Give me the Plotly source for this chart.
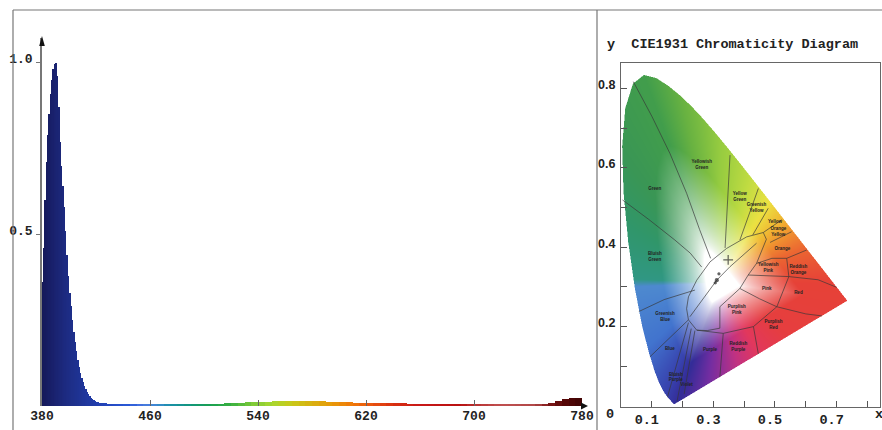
import numpy as np
import plotly.graph_objects as go
import zlib, struct, base64

# ---------------- data ----------------
peak_wavelengths = list(range(380, 440))
peak_values = [0.36, 0.46, 0.60, 0.71, 0.79, 0.85, 0.91, 0.95, 0.98, 0.995,
               1.00, 0.96, 0.87, 0.77, 0.70, 0.64, 0.58, 0.51, 0.44, 0.38,
               0.33, 0.29, 0.25, 0.215, 0.185, 0.16, 0.135, 0.115, 0.097, 0.082,
               0.069, 0.058, 0.049, 0.042, 0.035, 0.029, 0.024, 0.020, 0.017, 0.014,
               0.012, 0.011, 0.010, 0.009, 0.009, 0.008, 0.008, 0.008, 0.007, 0.007,
               0.007, 0.007, 0.006, 0.006, 0.006, 0.006, 0.006, 0.006, 0.006, 0.006]
tail_wavelengths = list(range(440, 780, 5))
tail_values = [0.006, 0.005, 0.005, 0.004, 0.004, 0.004, 0.004, 0.004, 0.004, 0.004,
               0.005, 0.005, 0.006, 0.006, 0.007, 0.008, 0.009, 0.010, 0.011, 0.012,
               0.013, 0.013, 0.014, 0.014, 0.014, 0.014, 0.014, 0.015, 0.016, 0.015,
               0.013, 0.012, 0.011, 0.011, 0.010, 0.010, 0.010, 0.009, 0.009, 0.009,
               0.008, 0.008, 0.007, 0.007, 0.006, 0.006, 0.006, 0.005, 0.005, 0.005,
               0.004, 0.004, 0.004, 0.003, 0.003, 0.003, 0.003, 0.003, 0.003, 0.003,
               0.003, 0.003, 0.004, 0.008, 0.014, 0.020, 0.024, 0.023]
spec_x_ticks = [380, 460, 540, 620, 700, 780]
spec_y_ticks = [0.5, 1.0]
spec_y_labels = ["0.5", "1.0"]

cie_x_ticks = [0.1, 0.3, 0.5, 0.7]
cie_x_minor = [0.2, 0.4, 0.6, 0.8]
cie_y_ticks = [0.2, 0.4, 0.6, 0.8]
cie_y_minor = [0.1, 0.3, 0.5, 0.7]

# CIE 1931 spectral locus (x, y) 380-700 nm
locus_x = [0.1741, 0.1740, 0.1738, 0.1736, 0.1733, 0.1730, 0.1726, 0.1721, 0.1714, 0.1703,
           0.1689, 0.1669, 0.1644, 0.1611, 0.1566, 0.1510, 0.1440, 0.1355, 0.1241, 0.1096,
           0.0913, 0.0687, 0.0454, 0.0235, 0.0082, 0.0039, 0.0139, 0.0389, 0.0743, 0.1142,
           0.1547, 0.1929, 0.2296, 0.2658, 0.3016, 0.3373, 0.3731, 0.4087, 0.4441, 0.4788,
           0.5125, 0.5448, 0.5752, 0.6029, 0.6270, 0.6482, 0.6658, 0.6801, 0.6915, 0.7006,
           0.7079, 0.7140, 0.7190, 0.7230, 0.7260, 0.7283, 0.7300, 0.7311, 0.7320, 0.7334, 0.7347]
locus_y = [0.0050, 0.0050, 0.0049, 0.0049, 0.0048, 0.0048, 0.0048, 0.0048, 0.0051, 0.0058,
           0.0069, 0.0086, 0.0109, 0.0138, 0.0177, 0.0227, 0.0297, 0.0399, 0.0578, 0.0868,
           0.1327, 0.2007, 0.2950, 0.4127, 0.5384, 0.6548, 0.7502, 0.8120, 0.8338, 0.8262,
           0.8059, 0.7816, 0.7543, 0.7243, 0.6923, 0.6589, 0.6245, 0.5896, 0.5547, 0.5202,
           0.4866, 0.4544, 0.4242, 0.3965, 0.3725, 0.3514, 0.3340, 0.3197, 0.3083, 0.2993,
           0.2920, 0.2859, 0.2809, 0.2770, 0.2740, 0.2717, 0.2700, 0.2689, 0.2680, 0.2666, 0.2653]

# colour-name region boundaries (x list, y list)
region_lines = [
    ([0.040, 0.100, 0.159, 0.213, 0.255, 0.291], [0.817, 0.730, 0.636, 0.536, 0.445, 0.372]),
    ([0.005, 0.090, 0.175, 0.225, 0.262], [0.519, 0.470, 0.418, 0.385, 0.350]),
    ([0.354, 0.347, 0.341, 0.338], [0.632, 0.520, 0.440, 0.398]),
    ([0.446, 0.386], [0.548, 0.418]),
    ([0.478, 0.428], [0.498, 0.431]),
    ([0.522, 0.462], [0.469, 0.437]),
    ([0.554, 0.484], [0.439, 0.412]),
    ([0.538, 0.570, 0.603], [0.372, 0.382, 0.393]),
    ([0.219, 0.213, 0.219, 0.246, 0.289, 0.343, 0.408, 0.462, 0.472, 0.455, 0.440, 0.413, 0.386, 0.321, 0.321, 0.280, 0.246, 0.219],
     [0.217, 0.245, 0.275, 0.317, 0.363, 0.397, 0.426, 0.437, 0.420, 0.390, 0.359, 0.330, 0.296, 0.250, 0.196, 0.190, 0.191, 0.217]),
    ([0.440, 0.490, 0.538], [0.359, 0.372, 0.372]),
    ([0.538, 0.545, 0.506, 0.430, 0.332, 0.246], [0.372, 0.326, 0.250, 0.200, 0.183, 0.191]),
    ([0.413, 0.545], [0.330, 0.326]),
    ([0.545, 0.640, 0.700], [0.326, 0.318, 0.299]),
    ([0.386, 0.450, 0.506], [0.296, 0.270, 0.250]),
    ([0.506, 0.600, 0.652], [0.250, 0.232, 0.227]),
    ([0.430, 0.446], [0.200, 0.131]),
    ([0.332, 0.321], [0.183, 0.073]),
    ([0.240, 0.205], [0.190, 0.030]),
    ([0.228, 0.182], [0.195, 0.012]),
    ([0.219, 0.151], [0.210, 0.023]),
    ([0.219, 0.094], [0.217, 0.124]),
    ([0.240, 0.140, 0.058], [0.292, 0.268, 0.238]),
    ([0.224, 0.270, 0.311, 0.354, 0.440], [0.225, 0.275, 0.317, 0.351, 0.410]),
]
region_names = ["Green", "Yellowish<br>Green", "Yellow<br>Green", "Greenish<br>Yellow", "Yellow",
                "Orange<br>Yellow", "Orange", "Bluish<br>Green", "Yellowish<br>Pink", "Reddish<br>Orange",
                "Pink", "Red", "Greenish<br>Blue", "Purplish<br>Pink", "Purplish<br>Red", "Blue",
                "Purple", "Reddish<br>Purple", "Bluish<br>Purple", "Violet"]
region_label_x = [0.110, 0.262, 0.386, 0.440, 0.500, 0.511, 0.524, 0.110, 0.478, 0.576,
                  0.473, 0.576, 0.143, 0.376, 0.495, 0.159, 0.289, 0.381, 0.178, 0.213]
region_label_y = [0.548, 0.607, 0.527, 0.498, 0.464, 0.439, 0.397, 0.376, 0.347, 0.343,
                  0.296, 0.284, 0.225, 0.242, 0.204, 0.145, 0.141, 0.149, 0.072, 0.052]

# ---------------- helpers ----------------
W, H = 882, 430
def px(xp): return xp / W
def py(yp): return 1 - yp / H

spec_stops = [(380, (20, 24, 88)), (390, (26, 34, 112)), (400, (29, 45, 133)), (415, (32, 56, 160)),
              (430, (35, 71, 192)), (445, (42, 90, 216)), (455, (74, 120, 224)), (465, (60, 138, 208)),
              (475, (26, 144, 168)), (490, (18, 150, 122)), (505, (26, 160, 80)), (520, (56, 176, 64)),
              (535, (120, 200, 56)), (550, (168, 216, 48)), (565, (200, 200, 24)), (580, (216, 176, 16)),
              (595, (232, 152, 8)), (610, (240, 120, 8)), (625, (232, 80, 16)), (640, (216, 48, 16)),
              (660, (200, 24, 24)), (690, (184, 16, 16)), (700, (184, 48, 48)), (720, (192, 80, 80)),
              (745, (176, 72, 72)), (755, (128, 24, 24)), (765, (90, 8, 8)), (780, (64, 4, 4))]
def spec_color(w):
    ws = [s[0] for s in spec_stops]
    c = [int(round(np.interp(w, ws, [s[1][k] for s in spec_stops]))) for k in range(3)]
    return "rgb(%d,%d,%d)" % tuple(c)

bar_x = peak_wavelengths + tail_wavelengths
bar_y = peak_values + tail_values
bar_w = [1] * len(peak_wavelengths) + [5] * len(tail_wavelengths)
bar_c = [spec_color(w + bw / 2) for w, bw in zip(bar_x, bar_w)]

# ---------------- CIE background image ----------------
XR = (0.0, 0.841)
YR = (-0.0025, 0.864)
NX, NY = 518, 688
xs = XR[0] + (np.arange(NX) + 0.5) * (XR[1] - XR[0]) / NX
ys = YR[1] - (np.arange(NY) + 0.5) * (YR[1] - YR[0]) / NY
GX, GY = np.meshgrid(xs, ys)

bx = np.array(locus_x + [locus_x[0]])
by = np.array(locus_y + [locus_y[0]])

def inside_poly(X, Y, pxs, pys):
    res = np.zeros(X.shape, bool)
    n = len(pxs)
    j = n - 1
    for i in range(n):
        xi, yi, xj, yj = pxs[i], pys[i], pxs[j], pys[j]
        if yi != yj:
            cond = (yi > Y) != (yj > Y)
            xint = (xj - xi) * (Y - yi) / (yj - yi) + xi
            res ^= cond & (X < xint)
        j = i
    return res

inside = inside_poly(GX, GY, bx, by)

WX, WY = 0.32, 0.31
dbx, dby = [], []
for i in range(len(bx) - 1):
    t = np.linspace(0, 1, 40, endpoint=False)
    dbx.extend(bx[i] + (bx[i + 1] - bx[i]) * t)
    dby.extend(by[i] + (by[i + 1] - by[i]) * t)
dbx, dby = np.array(dbx), np.array(dby)
b_ang = np.degrees(np.arctan2(dby - WY, dbx - WX)) % 360
b_dist = np.hypot(dbx - WX, dby - WY)
order = np.argsort(b_ang)
b_ang, b_dist = b_ang[order], b_dist[order]

p_ang = np.degrees(np.arctan2(GY - WY, GX - WX)) % 360
p_dist = np.hypot(GX - WX, GY - WY)
edge_d = np.interp(p_ang, b_ang, b_dist, period=360)
r = np.clip(p_dist / edge_d, 0, 1)

anchors = [(0, (230, 66, 56)), (18, (236, 104, 50)), (30, (240, 150, 48)), (40, (240, 188, 52)),
           (52, (236, 226, 66)), (70, (192, 220, 66)), (90, (150, 204, 64)), (105, (104, 178, 66)),
           (115, (66, 158, 76)), (135, (58, 150, 86)), (155, (48, 150, 108)), (178, (48, 152, 132)),
           (182, (78, 138, 208)), (215, (66, 116, 206)), (238, (56, 66, 174)), (246, (52, 44, 152)),
           (262, (116, 46, 162)), (285, (192, 50, 132)), (305, (226, 56, 94)), (330, (230, 62, 64))]
a_ang = [a[0] for a in anchors]
edge_rgb = np.stack([np.interp(p_ang, a_ang, [a[1][k] for a in anchors], period=360) for k in range(3)], -1)
s = np.clip((r - 0.16) / 0.50, 0, 1) ** 0.75
rgb = 255 * (1 - s[..., None]) + edge_rgb * s[..., None]
rgba = np.zeros((NY, NX, 4), np.uint8)
rgba[..., :3] = np.clip(rgb, 0, 255).astype(np.uint8)
rgba[..., 3] = np.where(inside, 255, 0).astype(np.uint8)

def png_uri(a):
    h, w, _ = a.shape
    raw = b"".join(b"\x00" + a[i].tobytes() for i in range(h))
    def chunk(t, d):
        return struct.pack(">I", len(d)) + t + d + struct.pack(">I", zlib.crc32(t + d) & 0xffffffff)
    png = (b"\x89PNG\r\n\x1a\n" + chunk(b"IHDR", struct.pack(">IIBBBBB", w, h, 8, 6, 0, 0, 0))
           + chunk(b"IDAT", zlib.compress(raw, 9)) + chunk(b"IEND", b""))
    return "data:image/png;base64," + base64.b64encode(png).decode()

# ---------------- figure ----------------
MONO = "Liberation Mono"
fig = go.Figure()
fig.add_trace(go.Bar(x=bar_x, y=bar_y, width=bar_w, offset=0, marker=dict(color=bar_c, line=dict(width=0)),
                     xaxis="x", yaxis="y", showlegend=False, hoverinfo="x+y"))

lx, ly = [], []
for xs_, ys_ in region_lines:
    lx += list(xs_) + [None]
    ly += list(ys_) + [None]
fig.add_trace(go.Scatter(x=lx, y=ly, mode="lines", line=dict(color="rgba(55,55,55,0.85)", width=0.8),
                         xaxis="x2", yaxis="y2", showlegend=False, hoverinfo="skip"))
fig.add_trace(go.Scatter(x=region_label_x, y=region_label_y, mode="text", text=region_names,
                         textfont=dict(size=4.5, color="#222", family="Liberation Sans", weight="bold"),
                         xaxis="x2", yaxis="y2", showlegend=False, hoverinfo="skip"))
fig.add_trace(go.Scatter(x=[0.348, 0.311, 0.318, 0.306], y=[0.368, 0.317, 0.333, 0.310], mode="markers",
                         marker=dict(symbol=["cross-thin", "circle", "circle", "circle"], size=[7, 3, 2, 2],
                                     color="#222", line=dict(color="#222", width=1.2)),
                         xaxis="x2", yaxis="y2", showlegend=False, hoverinfo="skip"))

fig.update_layout(
    template="none",
    width=W, height=H, margin=dict(l=0, r=0, t=0, b=0, autoexpand=False),
    paper_bgcolor="white", plot_bgcolor="rgba(0,0,0,0)", bargap=0,
    xaxis=dict(domain=[px(42), px(582)], range=[380, 780], anchor="y", automargin=False,
               tickvals=spec_x_ticks, ticktext=[str(v) for v in spec_x_ticks],
               ticks="inside", ticklen=6, tickcolor="#666", showline=False, showgrid=False, zeroline=False,
               tickfont=dict(family=MONO, size=13, color="#222", weight="bold")),
    yaxis=dict(domain=[py(406), py(38)], range=[0, 1.0717], anchor="x", automargin=False,
               tickvals=spec_y_ticks, ticktext=spec_y_labels, ticks="outside", ticklen=4, tickcolor="#777",
               showline=True, linecolor="#777", linewidth=1.5, showgrid=False, zeroline=False,
               ticklabelshift=-4, ticklabelstandoff=1,
               tickfont=dict(family=MONO, size=13, color="#222", weight="bold")),
    xaxis2=dict(domain=[px(621), px(880)], range=list(XR), anchor="y2", automargin=False,
                tickvals=cie_x_ticks, ticktext=[str(v) for v in cie_x_ticks],
                ticks="inside", ticklen=6, tickcolor="#555", ticklabelshift=-5,
                minor=dict(tickvals=cie_x_minor, ticks="inside", ticklen=6, tickcolor="#555"),
                showline=True, mirror=True, linecolor="#666", linewidth=1.2, showgrid=False, zeroline=False,
                tickfont=dict(family=MONO, size=13.5, color="#222", weight="bold")),
    yaxis2=dict(domain=[py(407), py(63)], range=list(YR), anchor="x2", automargin=False,
                tickvals=cie_y_ticks, ticktext=[str(v) for v in cie_y_ticks],
                ticks="inside", ticklen=6, tickcolor="#555", ticklabelshift=-4, ticklabelstandoff=2,
                minor=dict(tickvals=cie_y_minor, ticks="inside", ticklen=6, tickcolor="#555"),
                showline=True, mirror=True, linecolor="#666", linewidth=1.2, showgrid=False, zeroline=False,
                tickfont=dict(family="Liberation Sans", size=12.5, color="#222", weight="bold")),
    images=[dict(source=png_uri(rgba), xref="x2", yref="y2", x=XR[0], y=YR[1],
                 sizex=XR[1] - XR[0], sizey=YR[1] - YR[0], sizing="stretch",
                 xanchor="left", yanchor="top", layer="below")],
)

frame = dict(color="#777", width=1.2)
fig.add_shape(type="line", xref="paper", yref="paper", x0=px(13), x1=1, y0=py(10), y1=py(10), line=frame)
fig.add_shape(type="line", xref="paper", yref="paper", x0=px(13), x1=px(13), y0=py(10), y1=0, line=frame)
fig.add_shape(type="line", xref="paper", yref="paper", x0=px(597), x1=px(597), y0=py(10), y1=0, line=frame)
fig.add_shape(type="path", xref="paper", yref="paper",
              path="M %f,%f L %f,%f L %f,%f Z" % (px(39.2), py(46), px(42), py(36), px(44.8), py(46)),
              fillcolor="#111", line=dict(width=0))
fig.add_shape(type="path", xref="paper", yref="paper",
              path="M %f,%f L %f,%f L %f,%f Z" % (px(581), py(402.5), px(588), py(406), px(581), py(409.5)),
              fillcolor="#111", line=dict(width=0))

ann_font = dict(family=MONO, size=13.5, color="#222", weight="bold")
fig.add_annotation(xref="paper", yref="paper", x=px(605), y=py(45), xanchor="left", yanchor="middle",
                   text="y  CIE1931 Chromaticity Diagram", showarrow=False, font=ann_font)
fig.add_annotation(xref="paper", yref="paper", x=px(610), y=py(414), xanchor="center", yanchor="middle",
                   text="0", showarrow=False, font=ann_font)
fig.add_annotation(xref="paper", yref="paper", x=px(879), y=py(414), xanchor="center", yanchor="middle",
                   text="x", showarrow=False, font=ann_font)

fig.write_html("out.html")
